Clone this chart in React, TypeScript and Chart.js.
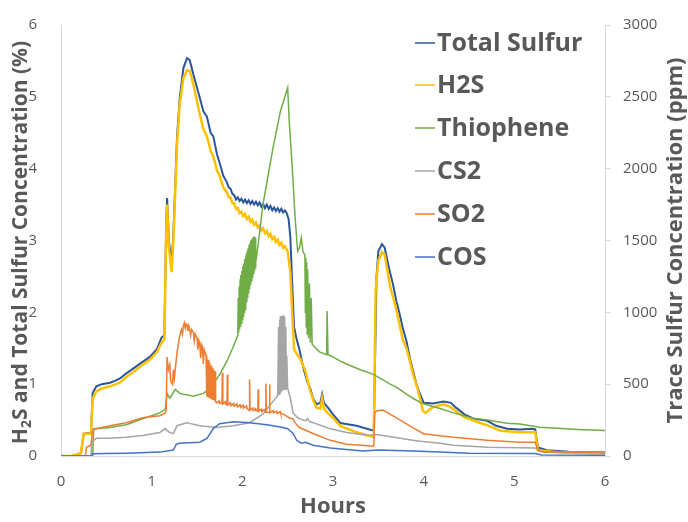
import React, { useEffect, useRef } from "react";
import { Chart, registerables } from "chart.js";

Chart.register(...registerables);

// ---------- data (hours, value) ----------
const seriesNames = ["Total Sulfur", "H2S", "Thiophene", "CS2", "SO2", "COS"];
const seriesColors = ["#2B579A", "#FFC000", "#70AD47", "#A5A5A5", "#ED7D31", "#4472C4"];

// % (left axis)
const totalSulfur: [number, number][] = [
  [0, 0], [0.12, 0], [0.22, 0.04], [0.25, 0.31], [0.33, 0.32], [0.35, 0.88], [0.39, 0.97], [0.45, 1.0],
  [0.54, 1.02], [0.6, 1.05], [0.65, 1.08], [0.72, 1.15], [0.8, 1.22], [0.9, 1.31], [0.98, 1.38],
  [1.06, 1.49], [1.11, 1.65], [1.14, 1.68], [1.16, 3.2], [1.17, 3.59], [1.19, 3.0], [1.22, 2.67],
  [1.24, 3.1], [1.28, 4.45], [1.31, 4.99], [1.35, 5.4], [1.39, 5.54], [1.42, 5.51], [1.46, 5.31],
  [1.53, 4.99], [1.57, 4.8], [1.61, 4.72], [1.65, 4.5], [1.68, 4.45], [1.72, 4.2], [1.75, 4.08],
  [1.79, 3.9], [1.83, 3.81], [1.85, 3.74], [1.87, 3.72], [1.89, 3.65], [1.91, 3.63], [1.93, 3.57],
  [1.95, 3.6], [1.97, 3.55], [1.99, 3.58], [2.01, 3.53], [2.03, 3.57], [2.05, 3.52], [2.07, 3.56],
  [2.09, 3.51], [2.11, 3.55], [2.13, 3.5], [2.15, 3.54], [2.17, 3.49], [2.19, 3.53], [2.21, 3.47],
  [2.23, 3.51], [2.25, 3.45], [2.27, 3.5], [2.29, 3.44], [2.31, 3.48], [2.33, 3.42], [2.35, 3.46],
  [2.37, 3.41], [2.39, 3.45], [2.41, 3.4], [2.43, 3.44], [2.45, 3.39], [2.47, 3.42], [2.49, 3.38],
  [2.51, 3.3], [2.53, 3.04],
  [2.55, 2.4], [2.57, 1.8], [2.6, 1.62], [2.63, 1.48], [2.66, 1.3], [2.69, 1.15], [2.72, 1.02],
  [2.75, 0.94], [2.78, 0.8], [2.82, 0.72], [2.86, 0.74], [2.88, 0.86], [2.9, 0.74], [2.94, 0.68],
  [3.0, 0.58], [3.08, 0.46], [3.26, 0.42], [3.43, 0.36], [3.45, 0.36], [3.48, 2.5], [3.5, 2.85],
  [3.54, 2.95], [3.57, 2.9], [3.6, 2.72], [3.63, 2.55], [3.66, 2.4], [3.7, 2.15], [3.73, 2.0],
  [3.77, 1.78], [3.81, 1.6], [3.85, 1.35],
  [3.88, 1.2], [3.92, 1.0], [3.96, 0.86], [4.0, 0.74], [4.1, 0.73], [4.22, 0.76], [4.3, 0.74],
  [4.36, 0.67], [4.45, 0.58], [4.55, 0.52], [4.7, 0.49], [4.8, 0.42], [4.92, 0.38], [5.06, 0.37],
  [5.2, 0.38], [5.23, 0.37], [5.26, 0.12], [5.36, 0.08], [5.6, 0.06], [6, 0.05],
];

const h2s: [number, number][] = [
  [0, 0], [0.12, 0], [0.22, 0.04], [0.25, 0.31], [0.33, 0.31], [0.35, 0.8], [0.39, 0.9], [0.45, 0.94],
  [0.54, 0.97], [0.65, 1.02], [0.72, 1.1], [0.8, 1.17], [0.9, 1.27], [0.98, 1.34], [1.06, 1.45],
  [1.11, 1.58], [1.14, 1.62], [1.16, 3.1], [1.17, 3.5], [1.19, 2.9], [1.22, 2.56], [1.24, 3.0],
  [1.28, 4.35], [1.31, 4.9], [1.35, 5.26], [1.39, 5.37], [1.42, 5.36], [1.46, 5.17], [1.53, 4.76],
  [1.57, 4.55], [1.61, 4.45], [1.65, 4.25], [1.68, 4.17], [1.72, 3.98], [1.75, 3.9], [1.79, 3.74],
  [1.83, 3.67], [1.85, 3.6], [1.87, 3.6], [1.89, 3.52], [1.91, 3.52], [1.93, 3.44], [1.95, 3.45],
  [1.97, 3.38], [1.99, 3.4], [2.01, 3.34], [2.03, 3.37], [2.05, 3.3], [2.07, 3.33], [2.09, 3.26],
  [2.11, 3.29], [2.13, 3.22], [2.15, 3.25], [2.17, 3.18], [2.19, 3.21], [2.21, 3.14], [2.23, 3.17],
  [2.25, 3.1], [2.27, 3.13], [2.29, 3.06], [2.31, 3.09], [2.33, 3.02], [2.35, 3.05], [2.37, 2.98],
  [2.39, 3.01], [2.41, 2.94], [2.43, 2.97], [2.45, 2.9], [2.47, 2.92], [2.5, 2.85],
  [2.53, 2.55], [2.55, 2.0], [2.57, 1.49],
  [2.6, 1.42], [2.64, 1.35], [2.67, 1.25], [2.69, 1.21], [2.72, 1.05], [2.75, 0.9], [2.79, 0.75],
  [2.82, 0.67], [2.86, 0.66], [2.88, 0.8], [2.9, 0.66], [2.94, 0.6], [3.0, 0.53], [3.08, 0.42],
  [3.26, 0.33], [3.43, 0.27], [3.45, 0.26], [3.47, 2.3], [3.5, 2.72], [3.54, 2.84], [3.57, 2.8],
  [3.6, 2.58], [3.63, 2.36], [3.66, 2.22], [3.7, 2.03], [3.73, 1.85], [3.77, 1.62], [3.81, 1.5],
  [3.85, 1.31], [3.88, 1.15], [3.93, 0.95],
  [3.97, 0.75], [3.99, 0.63], [4.02, 0.6], [4.1, 0.68], [4.22, 0.72], [4.3, 0.68], [4.36, 0.62],
  [4.45, 0.54], [4.6, 0.47], [4.72, 0.42], [4.85, 0.35], [5.06, 0.33], [5.23, 0.33], [5.26, 0.08],
  [5.5, 0.05], [6, 0.04],
];

// ppm (right axis)
const thiophene: [number, number][] = [
  [0, 0], [0.35, 0], [0.36, 190], [0.45, 193], [0.54, 198], [0.72, 218], [0.9, 259], [1.09, 300],
  [1.15, 327], [1.17, 436], [1.2, 402], [1.26, 464], [1.31, 436], [1.46, 416], [1.57, 436],
  [1.64, 470], [1.75, 566], [1.83, 660], [1.9, 760],
  [1.95, 840], [1.955, 1100], [1.96, 860], [1.965, 1180], [1.97, 880], [1.975, 1230], [1.98, 900],
  [1.985, 1260], [1.99, 925], [1.995, 1290], [2.0, 950], [2.005, 1320], [2.01, 975], [2.015, 1340],
  [2.02, 1000], [2.025, 1370], [2.03, 1020], [2.035, 1390], [2.04, 1045], [2.045, 1410], [2.05, 1070],
  [2.055, 1430], [2.06, 1100], [2.065, 1450], [2.07, 1130], [2.075, 1470], [2.08, 1160], [2.085, 1480],
  [2.09, 1190], [2.095, 1500], [2.1, 1220], [2.105, 1510], [2.11, 1245], [2.115, 1520], [2.12, 1270],
  [2.125, 1525], [2.13, 1290], [2.135, 1530], [2.14, 1310], [2.145, 1520], [2.15, 1350],
  [2.16, 1400], [2.18, 1500], [2.23, 1760], [2.34, 2150], [2.42, 2400], [2.5, 2563],
  [2.52, 2300], [2.55, 2018], [2.58, 1677], [2.61, 1425], [2.63, 1450], [2.65, 1520], [2.67, 1420],
  [2.69, 1400], [2.695, 1000], [2.7, 1380], [2.705, 900], [2.71, 1350], [2.715, 850], [2.72, 1300],
  [2.73, 820], [2.74, 1200], [2.75, 790], [2.76, 1100], [2.77, 780], [2.78, 770], [2.85, 725],
  [2.93, 705], [2.935, 1009], [2.945, 705], [3.0, 690], [3.08, 660], [3.15, 640], [3.3, 600],
  [3.44, 570], [3.55, 530], [3.63, 500], [3.7, 480], [3.81, 430], [3.9, 395], [3.99, 365],
  [4.1, 345], [4.18, 330], [4.33, 300], [4.55, 262], [4.7, 250], [4.92, 228], [5.06, 222],
  [5.28, 200], [5.43, 195], [5.7, 185], [6, 177],
];

const cs2: [number, number][] = [
  [0, 0], [0.33, 0], [0.34, 97], [0.39, 123], [0.54, 123], [0.72, 130], [0.9, 143], [1.09, 164],
  [1.15, 191], [1.17, 177], [1.2, 164], [1.24, 157], [1.28, 211], [1.35, 225], [1.39, 232],
  [1.45, 222], [1.53, 211], [1.72, 198], [1.9, 211], [2.08, 232], [2.23, 293], [2.34, 382],
  [2.39, 420], [2.4, 900], [2.405, 430], [2.41, 950], [2.415, 440], [2.42, 975], [2.425, 440],
  [2.43, 960], [2.435, 450], [2.44, 975], [2.445, 455], [2.45, 980], [2.455, 460], [2.46, 970],
  [2.465, 460], [2.47, 950], [2.475, 465], [2.48, 900], [2.485, 470], [2.49, 700], [2.5, 470],
  [2.53, 402], [2.56, 300], [2.61, 266], [2.65, 255], [2.7, 245], [2.72, 262], [2.74, 240],
  [2.78, 232], [2.96, 191], [3.15, 164], [3.4, 143], [3.45, 150], [3.5, 148], [3.55, 143],
  [3.88, 109], [3.96, 102], [4.18, 89], [4.33, 75], [4.7, 61], [5.23, 55], [5.32, 27], [6, 20],
];

const so2: [number, number][] = [
  [0, 0], [0.27, 0], [0.28, 61], [0.33, 75], [0.35, 180], [0.4, 191], [0.54, 211], [0.72, 232],
  [0.9, 266], [1.09, 280], [1.15, 300], [1.16, 320], [1.17, 689], [1.185, 600], [1.2, 634],
  [1.21, 520], [1.23, 498], [1.24, 600], [1.25, 540], [1.28, 723], [1.31, 839], [1.33, 880],
  [1.34, 850], [1.35, 907], [1.36, 927], [1.37, 890], [1.38, 920], [1.39, 914], [1.4, 870],
  [1.41, 905], [1.42, 880], [1.43, 840], [1.44, 880], [1.46, 860], [1.47, 800], [1.48, 850],
  [1.5, 820], [1.51, 740], [1.52, 805], [1.53, 790], [1.54, 680], [1.55, 775], [1.56, 760],
  [1.57, 640], [1.58, 740], [1.6, 700], [1.605, 420], [1.61, 690], [1.615, 410], [1.625, 670], [1.63, 405],
  [1.64, 650], [1.645, 400], [1.655, 630], [1.66, 395], [1.67, 615], [1.675, 390], [1.685, 600],
  [1.69, 385], [1.7, 590], [1.705, 380], [1.72, 370], [1.745, 385], [1.75, 366], [1.775, 365],
  [1.78, 580], [1.785, 362], [1.81, 378], [1.815, 360],
  [1.83, 358], [1.835, 566], [1.84, 355], [1.87, 372], [1.875, 350], [1.905, 366], [1.91, 346],
  [1.94, 362], [1.945, 342], [1.975, 356], [1.98, 338], [2.01, 352], [2.015, 334], [2.045, 348],
  [2.05, 330], [2.075, 318], [2.08, 532],
  [2.085, 318], [2.115, 334], [2.12, 316], [2.145, 330], [2.15, 314], [2.17, 312], [2.175, 464],
  [2.18, 312], [2.21, 326], [2.215, 308], [2.24, 322], [2.255, 305], [2.26, 505], [2.265, 305],
  [2.295, 302], [2.3, 498], [2.305, 302], [2.34, 316], [2.345, 299], [2.38, 312], [2.385, 296],
  [2.42, 308], [2.425, 294], [2.45, 293], [2.52, 265], [2.56, 259], [2.58, 232],
  [2.63, 198], [2.78, 157], [2.97, 109], [3.15, 82], [3.43, 70], [3.45, 70], [3.46, 300],
  [3.48, 314], [3.55, 320], [3.7, 266], [3.88, 198], [4.0, 155], [4.15, 143], [4.33, 130],
  [4.7, 109], [5.06, 96], [5.23, 96], [5.26, 41], [5.32, 27], [6, 27],
];

const cos: [number, number][] = [
  [0, 0], [0.33, 0], [0.35, 15], [0.5, 18], [0.72, 20], [1.09, 27], [1.24, 41], [1.27, 80],
  [1.3, 89], [1.53, 96], [1.61, 123], [1.68, 191], [1.75, 225], [1.9, 239], [2.08, 232],
  [2.27, 218], [2.45, 198], [2.5, 190], [2.56, 157], [2.6, 109], [2.65, 89], [2.7, 95],
  [2.78, 75], [2.97, 55], [3.33, 34], [3.5, 41], [3.88, 34], [4.18, 27], [4.5, 20], [5.23, 18],
  [5.3, 7], [6, 5],
];

const seriesData = [totalSulfur, h2s, thiophene, cs2, so2, cos];
const seriesAxis = ["yL", "yL", "yR", "yR", "yR", "yR"];
const seriesWidths = [2, 2.5, 1.5, 1.5, 1.5, 1.5];

const xTitle = "Hours";
const leftTitleParts = ["H", "2", "S and Total Sulfur Concentration (%)"];
const rightTitle = "Trace Sulfur Concentration (ppm)";

const TEXT = "#595959";
const AXIS = "#D9D9D9";
const FONT = '"Open Sans", sans-serif';

const overlay = {
  id: "overlay",
  afterDraw(chart: any) {
    const ctx = chart.ctx as CanvasRenderingContext2D;
    const { left, right, top, bottom } = chart.chartArea;
    ctx.save();
    ctx.fillStyle = TEXT;
    ctx.textBaseline = "middle";

    // x title
    ctx.font = `bold 22px ${FONT}`;
    ctx.textAlign = "center";
    ctx.fillText(xTitle, (left + right) / 2, 507);

    // left title with subscript
    const big = `bold 21px ${FONT}`;
    const small = `bold 14px ${FONT}`;
    ctx.font = big;
    const w0 = ctx.measureText(leftTitleParts[0]).width;
    const w2 = ctx.measureText(leftTitleParts[2]).width;
    ctx.font = small;
    const w1 = ctx.measureText(leftTitleParts[1]).width;
    const total = w0 + w1 + w2;
    ctx.save();
    ctx.translate(21, (top + bottom) / 2 + 2);
    ctx.rotate(-Math.PI / 2);
    ctx.textAlign = "left";
    let x = -total / 2;
    ctx.font = big;
    ctx.fillText(leftTitleParts[0], x, 0);
    x += w0;
    ctx.font = small;
    ctx.fillText(leftTitleParts[1], x, 6);
    x += w1;
    ctx.font = big;
    ctx.fillText(leftTitleParts[2], x, 0);
    ctx.restore();

    // right title
    ctx.save();
    ctx.translate(676, (top + bottom) / 2);
    ctx.rotate(-Math.PI / 2);
    ctx.textAlign = "center";
    ctx.font = `bold 22px ${FONT}`;
    ctx.fillText(rightTitle, 0, 0);
    ctx.restore();

    // legend
    const rowY = [43, 85, 128, 171, 214, 257];
    ctx.font = `bold 25px ${FONT}`;
    ctx.textAlign = "left";
    seriesNames.forEach((name, i) => {
      ctx.strokeStyle = seriesColors[i];
      ctx.lineWidth = 1.5;
      ctx.beginPath();
      ctx.moveTo(415, rowY[i]);
      ctx.lineTo(435, rowY[i]);
      ctx.stroke();
      ctx.fillStyle = TEXT;
      ctx.fillText(name, 437, rowY[i] + 1);
    });
    ctx.restore();
  },
};

export default function App() {
  const ref = useRef<HTMLCanvasElement | null>(null);

  useEffect(() => {
    document.body.style.margin = "0";
    if (!ref.current) return;
    const chart = new Chart(ref.current, {
      type: "line",
      data: {
        datasets: seriesNames.map((name, i) => ({
          label: name,
          data: seriesData[i].map(([x, y]) => ({ x, y })),
          borderColor: seriesColors[i],
          backgroundColor: seriesColors[i],
          borderWidth: seriesWidths[i],
          pointRadius: 0,
          tension: 0,
          yAxisID: seriesAxis[i],
          order: 6 - i,
        })),
      },
      options: {
        animation: false,
        responsive: false,
        devicePixelRatio: 1,
        layout: { padding: { top: 16, left: 0, right: 0, bottom: 0 } },
        plugins: { legend: { display: false }, tooltip: { enabled: false } },
        scales: {
          x: {
            type: "linear",
            min: 0,
            max: 6,
            ticks: { stepSize: 1, color: TEXT, font: { family: FONT, size: 15 }, padding: 9, maxRotation: 0 },
            grid: { display: false },
            border: { display: true, color: AXIS, width: 1 },
            afterFit: (s: any) => { s.height = 66; },
          },
          yL: {
            type: "linear",
            position: "left",
            min: 0,
            max: 6,
            ticks: { stepSize: 1, color: TEXT, font: { family: FONT, size: 15 }, padding: 16 },
            grid: { display: false },
            border: { display: true, color: AXIS, width: 1 },
            afterFit: (s: any) => { s.width = 61; },
          },
          yR: {
            type: "linear",
            position: "right",
            min: 0,
            max: 3000,
            ticks: {
              stepSize: 500,
              color: TEXT,
              font: { family: FONT, size: 15 },
              padding: 12,
              callback: (v: any) => String(v),
            },
            grid: { display: true, drawOnChartArea: false, drawTicks: true, tickLength: 6, color: AXIS },
            border: { display: true, color: AXIS, width: 1 },
            afterFit: (s: any) => { s.width = 83; },
          },
        },
      },
      plugins: [overlay],
    });
    return () => chart.destroy();
  }, []);

  return (
    <div style={{ position: "absolute", left: 0, top: 0, width: 688, height: 522, background: "#fff" }}>
      <canvas ref={ref} width={688} height={522} style={{ display: "block" }} />
    </div>
  );
}
